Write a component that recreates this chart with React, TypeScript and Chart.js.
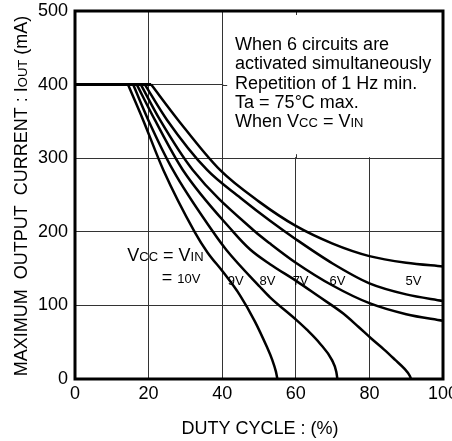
import React, { useEffect, useRef } from "react";
import { Chart, registerables } from "chart.js";

Chart.register(...registerables);

const FONT = '"Liberation Sans", Arial, Helvetica, sans-serif';

// Axis ticks
const xTicks = [0, 20, 40, 60, 80, 100];
const yTicks = [0, 100, 200, 300, 400, 500];

// Current limit plateau (mA) at low duty
const flatX = [0, 20.7];
const flatY = [400, 400];

// Curves: duty cycle (%) vs max output current (mA)
const v10X = [14.4, 18.5, 24, 32.5, 36, 40.3, 44.8, 48.9, 52.1, 53.6, 54.6, 55];
const v10Y = [400, 352, 284, 200, 172, 145, 114, 78, 44, 26, 10, 0];

const v9X = [15.8, 19.9, 26.6, 37.5, 41.2, 50.3, 53, 60.2, 63, 66.6, 69.8, 71, 71.3];
const v9Y = [400, 352, 284, 200, 175, 125, 111, 80, 67, 48, 26, 10, 0];

const v8X = [16.8, 21.7, 29.3, 43, 47.6, 53, 60.2, 66, 72.9, 77, 80.5, 84, 87, 89.5, 91, 91.3];
const v8Y = [400, 352, 284, 200, 176, 156, 133, 113, 89, 71, 55, 40, 26, 14, 4, 0];

const v7X = [17.9, 23.1, 32, 49, 53, 60, 70, 80, 90, 100];
const v7Y = [400, 352, 284, 200, 184, 158, 127, 103, 88, 79];

const v6X = [19, 25, 35.9, 45, 53, 60, 70, 80, 90, 100];
const v6Y = [400, 352, 284, 246, 215, 190, 157, 130, 115, 106];

const v5X = [20.7, 28, 39.4, 50, 60, 70, 80, 90, 100];
const v5Y = [400, 352, 284, 241, 208, 184, 167, 158, 153];

const curveXs = [v10X, v9X, v8X, v7X, v6X, v5X];
const curveYs = [v10Y, v9Y, v8Y, v7Y, v6Y, v5Y];

// Curve labels (placed in data coordinates)
const curveLabels = ["9V", "8V", "7V", "6V", "5V"];
const curveLabelX = [43.7, 52.3, 61.3, 71.3, 92];
const curveLabelY = 135;

const noteLines = [
  "When 6 circuits are",
  "activated simultaneously",
  "Repetition of 1 Hz min.",
  "Ta = 75°C max.",
];

type Seg = [string, number];

function rich(ctx: CanvasRenderingContext2D, segs: Seg[], x: number, y: number, align: string) {
  let w = 0;
  for (const s of segs) {
    ctx.font = `${s[1]}px ${FONT}`;
    w += ctx.measureText(s[0]).width;
  }
  let cx = align === "center" ? x - w / 2 : align === "right" ? x - w : x;
  ctx.textAlign = "left";
  ctx.textBaseline = "alphabetic";
  for (const s of segs) {
    ctx.font = `${s[1]}px ${FONT}`;
    ctx.fillText(s[0], cx, y);
    cx += ctx.measureText(s[0]).width;
  }
}

const decor = {
  id: "decor",
  beforeDatasetsDraw(chart: any) {
    const { ctx, scales } = chart;
    const xs = scales.x, ys = scales.y;
    const x0 = xs.getPixelForValue(40), x1 = xs.getPixelForValue(100);
    const y0 = ys.getPixelForValue(500), y1 = ys.getPixelForValue(300);
    ctx.save();
    ctx.fillStyle = "#fff";
    ctx.fillRect(x0 + 1, y0, x1 - x0 - 1, y1 - y0 - 1);
    ctx.strokeStyle = "#333";
    ctx.lineWidth = 1;
    const x60 = Math.round(xs.getPixelForValue(60)) + 0.5;
    const y400 = Math.round(ys.getPixelForValue(400)) + 0.5;
    ctx.beginPath();
    ctx.moveTo(x60, y0);
    ctx.lineTo(x60, y0 + 4);
    ctx.moveTo(x60, y1 - 4);
    ctx.lineTo(x60, y1);
    ctx.moveTo(x0, y400);
    ctx.lineTo(x0 + 5, y400);
    ctx.stroke();
    ctx.restore();
  },
  afterDatasetsDraw(chart: any) {
    const { ctx, scales, chartArea } = chart;
    const xs = scales.x, ys = scales.y;
    ctx.save();
    // frame
    ctx.strokeStyle = "#000";
    ctx.lineWidth = 3;
    ctx.strokeRect(chartArea.left, chartArea.top, chartArea.right - chartArea.left, chartArea.bottom - chartArea.top);

    ctx.fillStyle = "#000";
    // note box text
    const tx = xs.getPixelForValue(43.5);
    const ty = ys.getPixelForValue(455) + 6;
    const lh = 19.3;
    noteLines.forEach((t, i) => rich(ctx, [[t, 18]], tx, ty + i * lh, "left"));
    rich(ctx, [["When V", 18], ["CC", 13], [" = V", 18], ["IN", 13]], tx, ty + 4 * lh, "left");

    // Vcc = Vin label
    rich(ctx, [["V", 18], ["CC", 13], [" = V", 18], ["IN", 13]], xs.getPixelForValue(14.2), ys.getPixelForValue(168) + 6, "left");
    rich(ctx, [["= ", 18], ["10V", 13]], xs.getPixelForValue(23.6), ys.getPixelForValue(137) + 5, "left");
    curveLabels.forEach((t, i) => {
      rich(ctx, [[t, 13]], xs.getPixelForValue(curveLabelX[i]), ys.getPixelForValue(curveLabelY) + 5, "center");
    });

    // axis titles
    rich(ctx, [["DUTY CYCLE : (%)", 18]], (chartArea.left + chartArea.right) / 2 + 1, 434, "center");
    ctx.translate(27, (chartArea.top + chartArea.bottom) / 2 + 1);
    ctx.rotate(-Math.PI / 2);
    rich(ctx, [["MAXIMUM  OUTPUT  CURRENT : I", 18], ["OUT", 13], [" (mA)", 18]], 0, 0, "center");
    ctx.restore();
  },
};

function zeroPad(s: any) {
  s.paddingLeft = 0;
  s.paddingRight = 0;
  s.paddingTop = 0;
  s.paddingBottom = 0;
}

export default function App() {
  const ref = useRef<HTMLCanvasElement | null>(null);
  useEffect(() => {
    if (!ref.current) return;
    const mk = (xa: number[], ya: number[]) => xa.map((x, i) => ({ x, y: ya[i] }));
    const datasets: any[] = [
      {
        data: mk(flatX, flatY),
        borderColor: "#000",
        borderWidth: 3,
        pointRadius: 0,
        tension: 0,
        fill: false,
      },
      ...curveXs.map((xa, i) => ({
        label: ["10V", "9V", "8V", "7V", "6V", "5V"][i],
        data: mk(xa, curveYs[i]),
        borderColor: "#000",
        borderWidth: 2.5,
        pointRadius: 0,
        cubicInterpolationMode: "monotone",
        fill: false,
      })),
    ];
    const tickFont = { family: FONT, size: 18 };
    const chart = new Chart(ref.current, {
      type: "line",
      data: { datasets },
      plugins: [decor],
      options: {
        animation: false,
        responsive: true,
        maintainAspectRatio: false,
        layout: { padding: { left: 0, right: 9, top: 11, bottom: 0 }, autoPadding: false },
        plugins: { legend: { display: false }, tooltip: { enabled: false } },
        scales: {
          x: {
            type: "linear",
            min: 0,
            max: 100,
            afterBuildTicks: (s: any) => {
              s.ticks = xTicks.map((v) => ({ value: v }));
            },
            afterFit: (s: any) => {
              s.height = 62;
              zeroPad(s);
            },
            grid: { color: "#333", lineWidth: 1, drawTicks: false },
            border: { display: false },
            ticks: { color: "#000", font: tickFont, padding: 4, maxRotation: 0, autoSkip: false },
          },
          y: {
            type: "linear",
            min: 0,
            max: 500,
            afterBuildTicks: (s: any) => {
              s.ticks = yTicks.map((v) => ({ value: v }));
            },
            afterFit: (s: any) => {
              s.width = 75;
              zeroPad(s);
            },
            grid: { color: "#333", lineWidth: 1, drawTicks: false },
            border: { display: false },
            ticks: { color: "#000", font: tickFont, padding: 7, autoSkip: false },
          },
        },
      },
    } as any);
    return () => chart.destroy();
  }, []);
  return (
    <div style={{ position: "fixed", left: 0, top: 0, width: 452, height: 441, background: "#fff" }}>
      <canvas ref={ref} />
    </div>
  );
}
